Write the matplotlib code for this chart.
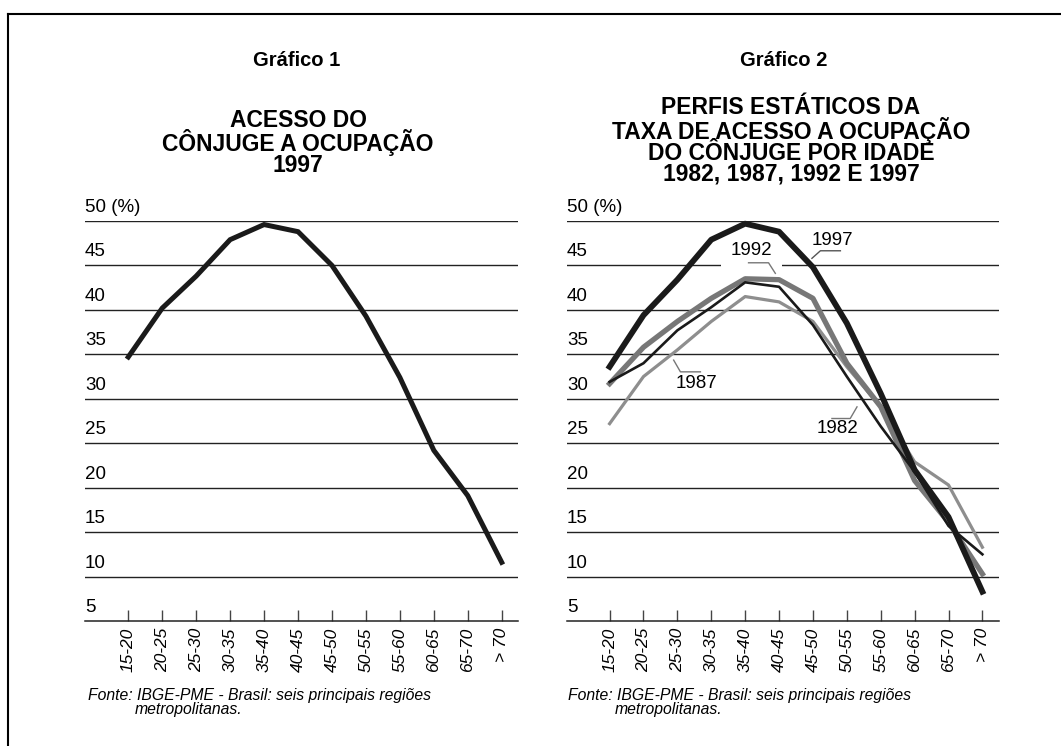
import matplotlib
matplotlib.use("Agg")
import matplotlib.pyplot as plt
from matplotlib.lines import Line2D
from matplotlib import transforms

plt.rcParams['font.family'] = ['Liberation Sans', 'DejaVu Sans']

# ---------------- data ----------------
age_groups = ["15-20", "20-25", "25-30", "30-35", "35-40", "40-45",
              "45-50", "50-55", "55-60", "60-65", "65-70", "> 70"]
y_levels = [5, 10, 15, 20, 25, 30, 35, 40, 45, 50]

rate_1997_g1 = [34.7, 40.2, 43.8, 47.9, 49.6, 48.8, 45.0, 39.3, 32.4, 24.2, 19.1, 11.6]

rate_1982 = [31.9, 34.0, 37.7, 40.3, 43.1, 42.6, 38.3, 32.5, 26.9, 21.8, 15.7, 12.5]
rate_1987 = [27.2, 32.5, 35.5, 38.7, 41.5, 40.9, 38.7, 33.6, 29.1, 22.9, 20.3, 13.3]
rate_1992 = [31.7, 35.8, 38.7, 41.3, 43.5, 43.4, 41.3, 34.0, 29.1, 20.8, 16.1, 10.3]
rate_1997 = [33.6, 39.4, 43.4, 47.9, 49.7, 48.8, 44.8, 38.5, 30.6, 22.0, 16.7, 8.3]

W, H = 1061, 746
fig = plt.figure(figsize=(W / 100, H / 100), dpi=100)


def fx(px):
    return px / W


def fy(py):
    return 1 - py / H


# frame lines (top and left)
fig.add_artist(Line2D([fx(7.5), 1.0], [fy(14), fy(14)], color='black', lw=1.5))
fig.add_artist(Line2D([fx(7.5), fx(7.5)], [fy(14), 0.0], color='black', lw=1.5))


def make_axes(left_px, right_px, xmin, xmax):
    ax = fig.add_axes([fx(left_px), fy(621), fx(right_px - left_px), fy(221) - fy(621)])
    ax.set_xlim(xmin, xmax)
    ax.set_ylim(5, 50)
    for s in ('left', 'top', 'right'):
        ax.spines[s].set_visible(False)
    ax.spines['bottom'].set_color('#222222')
    ax.spines['bottom'].set_linewidth(1.1)
    ax.set_yticks([])
    ax.set_xticks(range(len(age_groups)))
    ax.set_xticklabels(age_groups, rotation=90, fontstyle='italic', fontsize=12.5)
    ax.tick_params(axis='x', direction='in', length=8, width=1, color='#444444', pad=5)
    ax.set_facecolor('none')
    for v in y_levels[1:]:
        ax.axhline(v, color='#222222', lw=1.0, zorder=1)
    trans = transforms.blended_transform_factory(ax.transAxes, ax.transData)
    trans = transforms.offset_copy(trans, fig=fig, x=0, y=5, units='dots')
    for v in y_levels:
        lab = f"{v} (%)" if v == 50 else f"{v}"
        ax.text(0.0, v, lab, transform=trans, ha='left', va='bottom', fontsize=13.5)
    return ax


x = list(range(len(age_groups)))

# ---------------- Gráfico 1 ----------------
ax1 = make_axes(85, 518, -1.275, 11.48)
ax1.plot(x, rate_1997_g1, color='#1a1a1a', lw=3.6, solid_joinstyle='miter', zorder=3, clip_on=False)

fig.text(fx(297), fy(61), "Gráfico 1", ha='center', va='center', fontsize=14.5, fontweight='bold')
fig.text(fx(298), fy(143), "ACESSO DO\nCÔNJUGE A OCUPAÇÃO\n1997", ha='center', va='center',
         fontsize=16.5, fontweight='bold', linespacing=0.88)
fig.text(fx(88), fy(700), "Fonte: IBGE-PME - Brasil: seis principais regiões",
         ha='left', va='baseline', fontsize=11.3, fontstyle='italic')
fig.text(fx(135), fy(714), "metropolitanas.",
         ha='left', va='baseline', fontsize=11.3, fontstyle='italic')

# ---------------- Gráfico 2 ----------------
ax2 = make_axes(567, 999, -1.257, 11.49)
ax2.plot(x, rate_1987, color='#8e8e8e', lw=2.3, zorder=3, clip_on=False)
ax2.plot(x, rate_1992, color='#777777', lw=3.8, zorder=3.1, clip_on=False)
ax2.plot(x, rate_1982, color='#1a1a1a', lw=1.9, zorder=3.2, clip_on=False)
ax2.plot(x, rate_1997, color='#1a1a1a', lw=4.2, zorder=3.3, clip_on=False)

lab_fs = 13.5
ax2.text(6.58, 47.86, "1997", ha='center', va='center', fontsize=lab_fs, zorder=4)
ax2.plot([5.97, 6.22, 6.81], [45.8, 46.65, 46.65], color='#555555', lw=1.0, zorder=4)

ax2.text(4.18, 46.73, "1992", ha='center', va='center', fontsize=lab_fs, zorder=2,
         bbox=dict(facecolor='white', edgecolor='none', pad=7))
ax2.plot([4.10, 4.69, 4.89], [45.30, 45.30, 44.11], color='#777777', lw=1.0, zorder=2.5)

ax2.text(2.56, 31.70, "1987", ha='center', va='center', fontsize=lab_fs, zorder=4)
ax2.plot([1.89, 2.09, 2.68], [34.35, 33.03, 33.03], color='#777777', lw=1.0, zorder=4)

ax2.text(6.72, 26.63, "1982", ha='center', va='center', fontsize=lab_fs, zorder=4)
ax2.plot([7.30, 7.10, 6.56], [29.09, 27.78, 27.78], color='#777777', lw=1.0, zorder=4)

fig.text(fx(784), fy(61), "Gráfico 2", ha='center', va='center', fontsize=14.5, fontweight='bold')
fig.text(fx(791), fy(141), "PERFIS ESTÁTICOS DA\nTAXA DE ACESSO A OCUPAÇÃO\nDO CÔNJUGE POR IDADE\n1982, 1987, 1992 E 1997",
         ha='center', va='center', fontsize=16.5, fontweight='bold', linespacing=0.88)
fig.text(fx(568), fy(700), "Fonte: IBGE-PME - Brasil: seis principais regiões",
         ha='left', va='baseline', fontsize=11.3, fontstyle='italic')
fig.text(fx(615), fy(714), "metropolitanas.",
         ha='left', va='baseline', fontsize=11.3, fontstyle='italic')

fig.savefig("out.png", dpi=100, facecolor='white')
